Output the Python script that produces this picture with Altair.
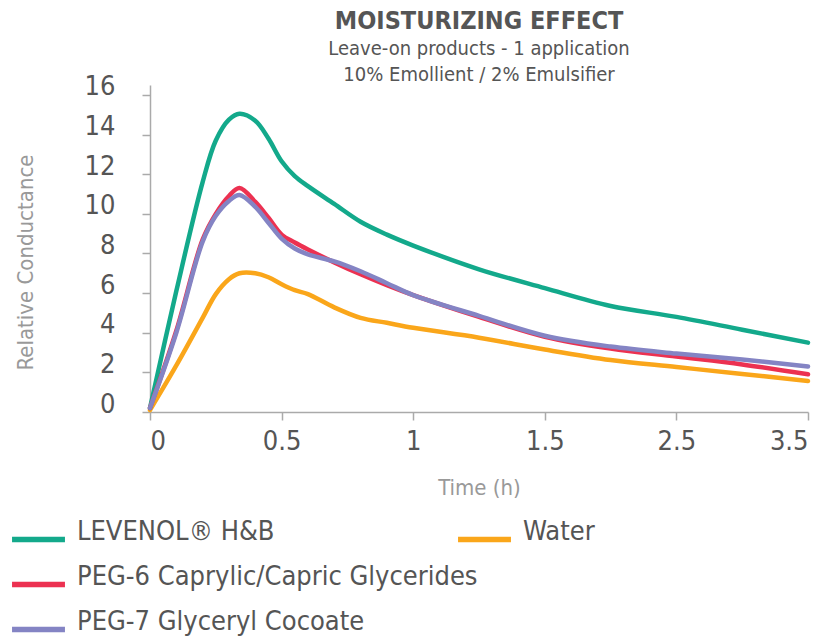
import altair as alt
import pandas as pd

# ---- data ----
times = [0, 0.1, 0.2, 0.25, 0.3, 0.34, 0.4, 0.45, 0.5, 0.55, 0.6, 0.7, 0.8, 0.9,
         1.0, 1.25, 1.5, 2.0, 2.5, 3.0, 3.5]
levenol = [0.2, 6.1, 11.6, 13.7, 14.75, 15.05, 14.7, 13.8, 12.65, 11.9, 11.4, 10.5,
           9.6, 8.95, 8.4, 7.2, 6.25, 5.35, 4.8, 4.15, 3.5]
peg6 = [0.2, 4.1, 8.7, 10.0, 10.9, 11.3, 10.6, 9.8, 8.95, 8.55, 8.2, 7.55,
        6.95, 6.4, 5.9, 4.8, 3.8, 3.2, 2.8, 2.4, 1.9]
peg7 = [0.2, 4.0, 8.6, 9.9, 10.65, 10.95, 10.35, 9.55, 8.75, 8.25, 7.95, 7.6,
        7.1, 6.5, 5.9, 4.85, 3.85, 3.3, 2.95, 2.65, 2.3]
water = [0.1, 2.35, 4.75, 5.95, 6.7, 7.0, 7.0, 6.8, 6.45, 6.15, 5.95, 5.28,
         4.75, 4.5, 4.25, 3.75, 3.15, 2.62, 2.27, 1.92, 1.56]

series_main = ["LEVENOL® H&B", "PEG-6 Caprylic/Capric Glycerides", "PEG-7 Glyceryl Cocoate"]
colors_main = ["#13A98B", "#EC3151", "#8484C4"]
series_water = ["Water"]
colors_water = ["#FAA61A"]

tick_positions = [0, 1, 2, 3, 4, 5]
tick_labels = ["0", "0.5", "1", "1.5", "2.5", "3.5"]

FONT = "Liberation Sans Narrow, DejaVu Sans Condensed, Roboto Condensed, Roboto, sans-serif"

rows = []
for name, vals in zip(series_main, [levenol, peg6, peg7]):
    for t, v in zip(times, vals):
        rows.append({"t": t, "value": v, "series": name})
df_main = pd.DataFrame(rows)
df_water = pd.DataFrame({"t": times, "value": water, "series": "Water"})

label_expr = "[" + ",".join("'%s'" % s for s in tick_labels) + "][datum.value]"

x_enc = alt.X(
    "pos:Q",
    scale=alt.Scale(domain=[0, 5], nice=False),
    axis=alt.Axis(
        values=tick_positions, labelExpr=label_expr, title="Time (h)",
        grid=False, tickSize=8, labelPadding=8, labelFontSize=27,
        labelColor="#555555", titleFontSize=22, titleColor="#999999",
        titleFontWeight="normal", titlePadding=23, domainColor="#aaaaaa",
        tickColor="#aaaaaa", domainWidth=1.5, tickWidth=1.5,
    ),
)
y_enc = alt.Y(
    "value:Q",
    scale=alt.Scale(domain=[0, 16.5], nice=False),
    axis=alt.Axis(
        values=[0, 2, 4, 6, 8, 10, 12, 14, 16], title="Relative Conductance",
        grid=False, tickSize=8, labelPadding=27, labelFontSize=27,
        labelColor="#555555", labelBaseline="alphabetic",
        titleFontSize=22, titleColor="#999999", titleFontWeight="normal",
        titleX=-125, titleY=177, titleBaseline="middle", titleAlign="center",
        domainColor="#aaaaaa", tickColor="#aaaaaa", domainWidth=1.5, tickWidth=1.5,
    ),
)

legend_common = dict(
    orient="none", title=None, symbolType="stroke", symbolSize=2800,
    symbolStrokeWidth=5.5, labelFontSize=27, labelColor="#555555",
    labelBaseline="alphabetic", labelOffset=9, direction="vertical",
    columns=1, rowPadding=4, padding=0, labelLimit=500,
)

pos_expr = "datum.t <= 1.5 ? datum.t * 2 : datum.t + 1.5"

water_layer = alt.Chart(df_water).transform_calculate(pos=pos_expr).mark_line(
    interpolate="catmull-rom", strokeWidth=4.5, strokeCap="round"
).encode(
    x=x_enc, y=y_enc,
    color=alt.Color("series:N", scale=alt.Scale(domain=series_water, range=colors_water),
                    legend=alt.Legend(legendX=305, legendY=425, **legend_common)),
)

main_layer = alt.Chart(df_main).transform_calculate(pos=pos_expr).mark_line(
    interpolate="catmull-rom", strokeWidth=4.5, strokeCap="round"
).encode(
    x=x_enc, y=y_enc,
    color=alt.Color("series:N", scale=alt.Scale(domain=series_main, range=colors_main),
                    legend=alt.Legend(legendX=-141, legendY=425, **legend_common)),
    order=alt.Order("t:Q"),
)

chart = alt.layer(water_layer, main_layer).resolve_scale(color="independent").properties(
    width=658, height=327,
    title=alt.TitleParams(
        text="MOISTURIZING EFFECT",
        subtitle=["Leave-on products - 1 application", "10% Emollient / 2% Emulsifier"],
        anchor="middle", fontSize=25, fontWeight="bold", color="#555555",
        subtitleFontSize=20, subtitleColor="#555555", subtitleLineHeight=26,
        subtitlePadding=5, offset=-12,
    ),
    autosize=alt.AutoSizeParams(type="none"),
    padding={"left": 142, "top": 77, "right": 14, "bottom": 226},
).configure(font=FONT).configure_view(stroke=None)

chart.save("out.html", embed_options={"renderer": "svg", "actions": False})
